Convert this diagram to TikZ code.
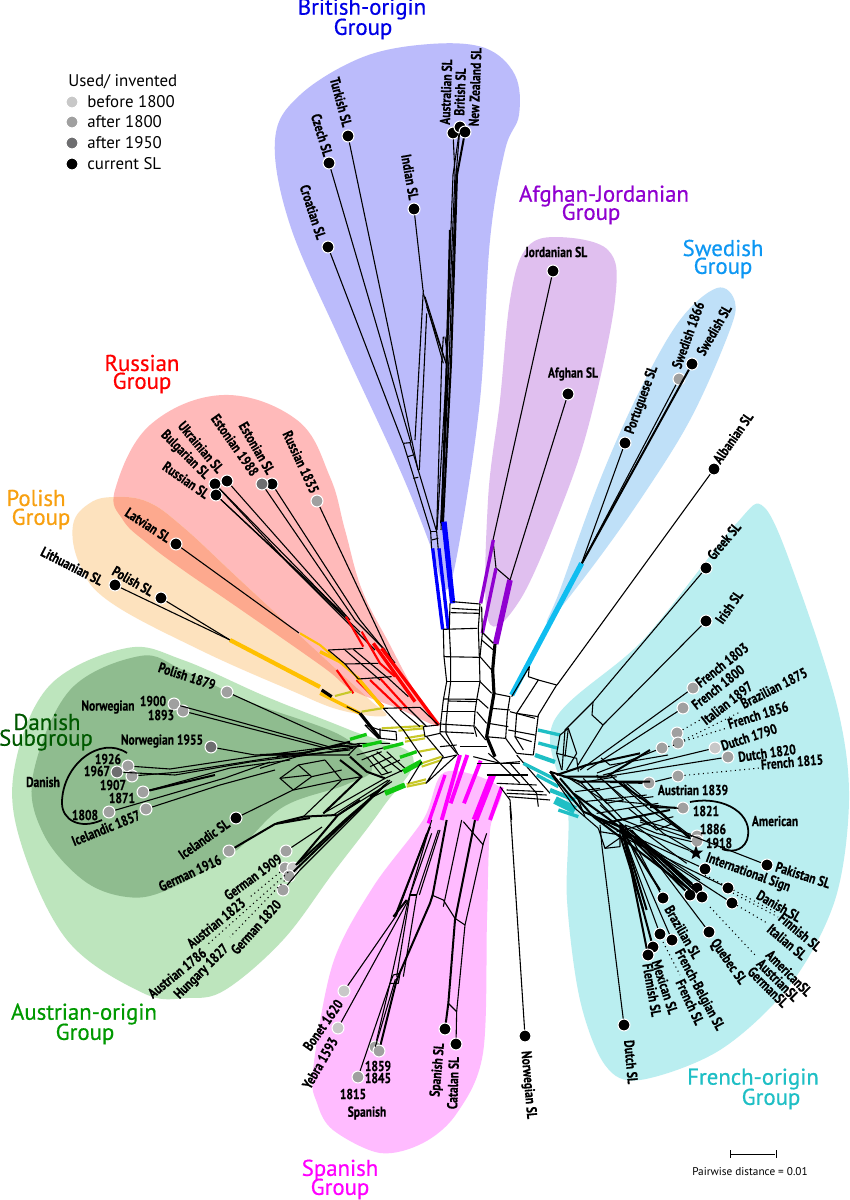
\documentclass[tikz,border=0pt]{standalone}
\usepackage{fontspec}
\usetikzlibrary{shapes.geometric}
\setmainfont[FakeStretch=0.8,BoldFeatures={FakeBold=0.35}]{PT Sans}
\newfontfamily\grpfont[FakeBold=0.5]{PT Sans}
\newfontfamily\legfont{PT Sans}
\definecolor{britfill}{HTML}{BBBBFB}
\definecolor{afghfill}{HTML}{E0BFEF}
\definecolor{swedfill}{HTML}{BFE0F8}
\definecolor{frenfill}{HTML}{BAEEF0}
\definecolor{russfill}{HTML}{FFBABA}
\definecolor{polifill}{HTML}{FDE2BE}
\definecolor{overfill}{HTML}{FDA98E}
\definecolor{ausfill}{HTML}{BDE5BD}
\definecolor{danfill}{HTML}{8FBC8F}
\definecolor{spanfill}{HTML}{FFBBFF}
\definecolor{yearA}{HTML}{C8C8C8}
\definecolor{yearB}{HTML}{A0A0A0}
\definecolor{yearC}{HTML}{6E6E70}
\definecolor{olive}{HTML}{C8C828}
\definecolor{amber}{HTML}{FFC000}
\definecolor{teal2}{HTML}{1FBFC5}
\definecolor{sky2}{HTML}{10BDF0}
\definecolor{purp2}{HTML}{9000D0}
\definecolor{green2}{HTML}{10C810}
\definecolor{mag2}{HTML}{FF00FF}
\definecolor{ora2}{HTML}{F8A010}
\tikzset{
  leaf/.style={circle,draw=white,line width=0.6pt,inner sep=0pt,minimum size=6.8pt,fill=black},
  oldA/.style={leaf,fill=yearA},
  oldB/.style={leaf,fill=yearB},
  oldC/.style={leaf,fill=yearC},
  lbl/.style={font=\fontsize{8.2}{8.2}\selectfont\bfseries,inner sep=0pt},
  grp/.style={font=\grpfont\fontsize{13}{13}\selectfont,inner sep=0pt},
  leg/.style={font=\legfont\fontsize{9.6}{9.6}\selectfont,inner sep=0pt,anchor=west},
  net/.style={line width=0.62pt,line join=round},
  netb/.style={line width=1.15pt,line join=round},
  thirds/.style={x=0.006667cm,y=-0.006667cm},
  strip/.style={line width=1.2pt},
  stripb/.style={line width=1.9pt}
}
\newcommand{\russblob}{plot[smooth cycle,tension=.65] coordinates {(223,395) (297,420) (330,477) (345,530) (362,590) (390,645) (417,695) (440,726) (397,708) (352,690) (323,667) (237,607) (183,570) (147,543) (123,520) (115,490) (150,425)}}
\newcommand{\poliblob}{plot[smooth cycle,tension=.65] coordinates {(115,497) (148,502) (183,527) (240,580) (323,657) (370,700) (385,716) (340,710) (290,690) (200,650) (110,602) (80,565) (73,525) (90,503)}}
\begin{document}
\begin{tikzpicture}[x=0.02cm,y=-0.02cm,>=stealth]
    \useasboundingbox (0,0) rectangle (849,1200);
    \fill[white] (0,0) rectangle (849,1200);

    % Group areas
    \fill[britfill] plot[smooth cycle,tension=.6] coordinates {(275,140) (300,95) (363,57) (430,44) (485,48) (515,75) (519,115) (505,150) (490,240) (480,400) (458,550) (445,590) (432,550) (400,470) (340,340) (290,225)};
    \fill[afghfill] plot[smooth cycle,tension=.6] coordinates {(555,237) (608,250) (615,300) (590,420) (562,505) (520,600) (488,620) (488,500) (500,400) (510,300) (525,250)};
    \fill[swedfill] plot[smooth cycle,tension=.6] coordinates {(717,288) (735,302) (728,335) (690,420) (640,500) (590,570) (548,622) (560,590) (600,480) (640,390) (680,320)};
    \fill[frenfill] plot[smooth cycle,tension=.55] coordinates {(765,508) (800,590) (838,710) (849,800) (835,900) (790,985) (720,1050) (640,1080) (605,1065) (580,1000) (567,900) (568,810) (553,723) (643,640) (735,525)};
    \fill[russfill] \russblob;
    \fill[polifill] \poliblob;
    \begin{scope}
        \clip \poliblob;
        \fill[overfill] \russblob;
    \end{scope}
    \fill[ausfill] plot[smooth cycle,tension=.6] coordinates {(127,648) (183,660) (267,697) (350,730) (413,757) (383,807) (333,873) (283,940) (225,990) (187,998) (143,993) (67,940) (20,840) (15,765) (50,685)};
    \fill[danfill] plot[smooth cycle,tension=.6] coordinates {(140,656) (183,670) (250,702) (340,735) (372,768) (345,785) (283,807) (233,853) (167,890) (127,897) (83,880) (43,833) (33,775) (70,690)};
    \fill[spanfill] plot[smooth cycle,tension=.55] coordinates {(445,772) (500,788) (490,830) (487,920) (483,1053) (457,1113) (423,1143) (380,1153) (333,1130) (317,1103) (313,1070) (333,963) (373,887) (423,820)};

    % Group titles
    \node[grp,text=blue!90!black] (tbrit) at (362,9) {British-origin};
    \node[grp,text=blue!90!black] (tbrit2) at (363,29) {Group};
    \node[grp,text=purp2] (tafgh) at (604,196) {Afghan-Jordanian};
    \node[grp,text=purp2] (tafgh2) at (591,214) {Group};
    \node[grp,text=sky2!80!blue] (tswed) at (723,248) {Swedish};
    \node[grp,text=sky2!80!blue] (tswed2) at (723,268) {Group};
    \node[grp,text=red] (truss) at (142,363) {Russian};
    \node[grp,text=red] (truss2) at (142,383) {Group};
    \node[grp,text=ora2] (tpoli) at (36,498) {Polish};
    \node[grp,text=ora2] (tpoli2) at (41,519) {Group};
    \node[grp,text=green!35!black] (tdani) at (47,722) {Danish};
    \node[grp,text=green!35!black] (tdani2) at (46,740) {Subgroup};
    \node[grp,text=green!60!black] (taust) at (84,1014) {Austrian-origin};
    \node[grp,text=green!60!black] (taust2) at (85,1034) {Group};
    \node[grp,text=mag2] (tspan) at (340,1170) {Spanish};
    \node[grp,text=mag2] (tspan2) at (340,1189) {Group};
    \node[grp,text=teal2] (tfren) at (753,1079) {French-origin};
    \node[grp,text=teal2] (tfren2) at (771,1099) {Group};

    % Legend
    \node[leg] (legtitle) at (68,82) {Used/ invented};
    \node[oldA] (lega) at (72,102) {};
    \node[oldB] (legb) at (72,122) {};
    \node[oldC] (legc) at (72,143) {};
    \node[leaf] (legd) at (72,164) {};
    \node[leg] at (87,102) {before 1800};
    \node[leg] at (87,122) {after 1800};
    \node[leg] at (87,143) {after 1950};
    \node[leg] at (87,164) {current SL};

    % Scale bar
    \node[inner sep=0pt] (barl) at (730,1154) {};
    \node[inner sep=0pt] (barr) at (776,1154) {};
    \draw[line width=0.45pt] (barl) -- (barr);
    \draw[line width=0.45pt] (730,1150) -- (730,1158);
    \draw[line width=0.45pt] (776,1150) -- (776,1158);
    \node[font=\legfont\fontsize{6.4}{6.4}\selectfont,inner sep=0pt] (barlbl) at (750,1172) {Pairwise distance = 0.01};

    % British-origin leaves
    \node[leaf] (turkish) at (348,136) {};
    \node[leaf] (czech) at (329,163) {};
    \node[leaf] (croatian) at (328,247) {};
    \node[leaf] (indian) at (414,209) {};
    \node[leaf] (australian) at (453,133) {};
    \node[leaf] (british) at (460,127) {};
    \node[leaf] (newzealand) at (465,132) {};
    \node[lbl,rotate=-75] at (341,102) {Turkish SL};
    \node[lbl,rotate=-73] at (322,135) {Czech SL};
    \node[lbl,rotate=-72] at (313,212) {Croatian SL};
    \node[lbl,rotate=-80] at (410,177) {Indian SL};
    \node[lbl,rotate=88] at (446,92) {Australian SL};
    \node[lbl,rotate=88] at (460,92) {British SL};
    \node[lbl,rotate=88] at (475,87) {New Zealand SL};

    % Afghan-Jordanian and Swedish leaves
    \node[leaf] (jordanian) at (553,271) {};
    \node[leaf] (afghan) at (568,394) {};
    \node[leaf] (portuguese) at (625,443) {};
    \node[oldB] (swedish66) at (679,379) {};
    \node[leaf] (swedish) at (692,364) {};
    \node[leaf] (albanian) at (714,469) {};
    \node[lbl] at (556,252) {Jordanian SL};
    \node[lbl] at (573,374) {Afghan SL};
    \node[lbl,rotate=70] at (642,400) {Portuguese SL};
    \node[lbl,rotate=70] at (688,335) {Swedish 1866};
    \node[lbl,rotate=60] at (714,330) {Swedish SL};
    \node[lbl,rotate=55] at (733,438) {Albanian SL};

    % French-origin leaves
    \node[leaf] (greek) at (706,568) {};
    \node[leaf] (irish) at (706,621) {};
    \node[oldB] (fr1803) at (693,688) {};
    \node[oldB] (fr1800) at (683,708) {};
    \node[oldB] (it1897) at (677,733) {};
    \node[oldB] (br1875) at (678,743) {};
    \node[oldB] (fr1856) at (662,748) {};
    \node[oldA] (du1790) at (715,748) {};
    \node[oldB] (du1820) at (728,757) {};
    \node[oldB] (fr1815) at (678,776) {};
    \node[oldB] (au1839) at (649,783) {};
    \node[oldB] (am1821) at (683,808) {};
    \node[oldB] (am1886) at (697,836) {};
    \node[oldB] (am1918) at (697,841) {};
    \node[star,star points=5,star point ratio=2.4,fill=black,inner sep=0pt,minimum size=8.5pt] (intsign) at (696,853) {};
    \node[leaf] (pakistan) at (767,865) {};
    \node[leaf] (danishsl) at (705,869) {};
    \node[leaf] (finnish) at (728,888) {};
    \node[leaf] (italian) at (732,903) {};
    \node[leaf] (americansl) at (697,888) {};
    \node[leaf] (austriansl) at (702,897) {};
    \node[leaf] (germansl) at (690,895) {};
    \node[leaf] (quebec) at (709,932) {};
    \node[leaf] (brazilian) at (663,898) {};
    \node[leaf] (frbelgian) at (672,940) {};
    \node[leaf] (frenchsl) at (660,934) {};
    \node[leaf] (mexican) at (653,947) {};
    \node[leaf] (flemish) at (648,955) {};
    \node[leaf] (dutchsl) at (624,1025) {};
    \node[leaf] (norwegiansl) at (525,1036) {};
    \node[lbl,rotate=50] at (724,541) {Greek SL};
    \node[lbl,rotate=55] at (729,607) {Irish SL};
    \node[lbl,rotate=38] at (722,665) {French 1803};
    \node[lbl,rotate=38] at (718,687) {French 1800};
    \node[lbl,rotate=38] at (727,703) {Italian 1897};
    \node[lbl,rotate=27] at (774,688) {Brazilian 1875};
    \node[lbl,rotate=17] at (758,715) {French 1856};
    \node[lbl,rotate=18] at (749,737) {Dutch 1790};
    \node[lbl,rotate=8] at (767,753) {Dutch 1820};
    \node[lbl,rotate=5] at (792,762) {French 1815};
    \node[lbl] at (693,790) {Austrian 1839};
    \node[lbl] at (706,811) {1821};
    \node[lbl] at (713,829) {1886};
    \node[lbl] at (719,843) {1918};
    \node[lbl] at (775,821) {American};
    \node[lbl,rotate=-20] at (748,873) {International Sign};
    \node[lbl,rotate=-18] at (803,875) {Pakistan SL};
    \node[lbl,rotate=-30] at (779,906) {Danish SL};
    \node[lbl,rotate=-40] at (800,932) {Finnish SL};
    \node[lbl,rotate=-40] at (787,942) {Italian SL};
    \node[lbl,rotate=-45] at (789,973) {AmericanSL};
    \node[lbl,rotate=-45] at (778,980) {AustrianSL};
    \node[lbl,rotate=-45] at (768,987) {GermanSL};
    \node[lbl,rotate=-55] at (728,962) {Quebec SL};
    \node[lbl,rotate=-60] at (683,932) {Brazilian SL};
    \node[lbl,rotate=-62] at (699,990) {French-Belgian SL};
    \node[lbl,rotate=-65] at (690,1002) {French SL};
    \node[lbl,rotate=-72] at (665,987) {Mexican SL};
    \node[lbl,rotate=-80] at (652,990) {Flemish SL};
    \node[lbl,rotate=-85] at (631,1062) {Dutch SL};
    \node[lbl,rotate=-85] at (528,1085) {Norwegian SL};
    \draw[line width=1pt] (690,802) .. controls (725,795) and (755,815) .. (747,840) .. controls (742,852) and (730,852) .. (722,849);

    % Spanish leaves
    \node[oldA] (bonet) at (344,991) {};
    \node[oldA] (yebra) at (338,1028) {};
    \node[oldB] (sp1859) at (375,1047) {};
    \node[oldB] (sp1845) at (379,1051) {};
    \node[oldB] (sp1815) at (358,1077) {};
    \node[leaf] (spanishsl) at (445,1029) {};
    \node[leaf] (catalan) at (456,1044) {};
    \node[lbl,rotate=55] at (323,1025) {Bonet 1620};
    \node[lbl,rotate=60] at (320,1063) {Yebra 1593};
    \node[lbl] at (378,1066) {1859};
    \node[lbl] at (378,1078) {1845};
    \node[lbl] at (353,1094) {1815};
    \node[lbl] at (367,1113) {Spanish};
    \node[lbl,rotate=85] at (438,1070) {Spanish SL};
    \node[lbl,rotate=88] at (453,1083) {Catalan SL};

    % Danish and Austrian leaves
    \node[oldB] (po1879) at (227,692) {};
    \node[oldB] (no1900) at (174,704) {};
    \node[oldB] (no1893) at (183,711) {};
    \node[oldC] (no1955) at (211,747) {};
    \node[oldB] (da1926) at (128,766) {};
    \node[oldC] (da1967) at (117,772) {};
    \node[oldB] (da1907) at (132,776) {};
    \node[oldB] (da1871) at (143,792) {};
    \node[oldB] (da1808) at (109,812) {};
    \node[oldB] (ic1857) at (146,809) {};
    \node[leaf] (icelandic) at (236,818) {};
    \node[oldB] (ge1916) at (229,851) {};
    \node[oldB] (ge1909) at (286,851) {};
    \node[oldB] (au1823) at (285,868) {};
    \node[oldA] (au1786) at (293,868) {};
    \node[oldB] (hu1827) at (289,876) {};
    \node[oldB] (ge1820) at (283,890) {};
    \node[lbl,rotate=-18] at (187,676) {Polish 1879};
    \node[lbl] at (108,707) {Norwegian};
    \node[lbl] at (153,701) {1900};
    \node[lbl] at (161,715) {1893};
    \node[lbl] at (162,741) {Norwegian 1955};
    \node[lbl] at (108,759) {1926};
    \node[lbl] at (97,771) {1967};
    \node[lbl] at (113,785) {1907};
    \node[lbl] at (122,798) {1871};
    \node[lbl] at (85,815) {1808};
    \node[lbl,rotate=22] at (106,828) {Icelandic 1857};
    \node[lbl] at (43,782) {Danish};
    \node[lbl,rotate=35] at (204,839) {Icelandic SL};
    \node[lbl,rotate=25] at (190,873) {German 1916};
    \node[lbl,rotate=36] at (253,877) {German 1909};
    \node[lbl,rotate=39] at (216,923) {Austrian 1823};
    \node[lbl,rotate=39] at (177,973) {Austrian 1786};
    \node[lbl,rotate=45] at (202,972) {Hungary 1827};
    \node[lbl,rotate=48] at (256,927) {German 1820};
    \draw[line width=1pt] (127,753) .. controls (100,735) and (62,765) .. (62,803) .. controls (62,820) and (80,830) .. (102,820);
    \draw[net,dotted] (au1823) -- (250,897);
    \draw[net,dotted] (au1786) -- (207,945);
    \draw[net,dotted] (hu1827) -- (230,937);

    % Russian and Polish leaves
    \node[oldB] (ru1835) at (317,501) {};
    \node[leaf] (estoniansl) at (272,484) {};
    \node[oldC] (es1988) at (262,484) {};
    \node[leaf] (ukrainian) at (227,481) {};
    \node[leaf] (bulgarian) at (215,484) {};
    \node[leaf] (russiansl) at (216,495) {};
    \node[leaf] (latvian) at (176,544) {};
    \node[leaf] (polishsl) at (161,598) {};
    \node[leaf] (lithuanian) at (115,585) {};
    \node[lbl,rotate=-65] at (301,462) {Russian 1835};
    \node[lbl,rotate=-60] at (257,448) {Estonian SL};
    \node[lbl,rotate=-55] at (235,445) {Estonian 1988};
    \node[lbl,rotate=-50] at (201,447) {Ukrainian SL};
    \node[lbl,rotate=-45] at (185,455) {Bulgarian SL};
    \node[lbl,rotate=-35] at (186,480) {Russian SL};
    \node[lbl,rotate=-33] at (148,525) {Latvian SL};
    \node[lbl,rotate=-30] at (133,581) {Polish SL};
    \node[lbl,rotate=-27] at (72,566) {Lithuanian SL};

    % Edges to the leaves, British-origin
    \draw[net] (turkish) -- (418,470);
    \draw[net] (czech) -- (411,443);
    \draw[net] (croatian) -- (403,443);
    \draw[net] (indian) -- (423,290);
    \draw[net] (australian) -- (455,175) -- (447,363) -- (437,530);
    \draw[net] (british) -- (456,175) -- (449,363) -- (441,530);
    \draw[netb] (newzealand) -- (457,175) -- (451,363) -- (443,522);
    \draw[net] (british) -- (453,175) -- (446,363);
    \begin{scope}[shift={(310,230)},thirds]
        \draw[net] (340,180) -- (315,630);
        \draw[net] (350,250) -- (328,720);
        \draw[net] (340,190) -- (400,400);
        \draw[net] (345,200) -- (405,390);
        \draw[net] (350,230) -- (408,400);
        \draw[net] (280,640) -- (362,905) -- (365,960);
        \draw[net] (300,638) -- (380,905) -- (385,960);
        \draw[net] (280,640) -- (300,638);
        \draw[net] (293,680) -- (310,675);
        \draw[net] (310,745) -- (325,742);
        \draw[net] (362,905) -- (380,905);
        \draw[net] (365,930) -- (385,925);
        \draw[net] (400,320) -- (395,400) -- (380,900);
        \draw[net] (405,320) -- (415,400) -- (392,880);
        \draw[netb] (420,0) -- (410,400) -- (395,880);
    \end{scope}

    % Edges to the leaves, Afghan-Jordanian and Swedish
    \draw[net] (jordanian) -- (493,540) -- (496,568) -- (510,580);
    \draw[net] (afghan) -- (510,580);
    \draw[net] (portuguese) -- (581,565);
    \draw[net] (swedish66) -- (581,565);
    \draw[netb] (swedish) -- (581,565);
    \draw[net] (albanian) -- (557,685);

    % Edges to the leaves, French-origin
    \draw[net] (greek) -- (593,702) -- (565,730) -- (562,770);
    \draw[net] (irish) -- (603,725) -- (578,765);
    \draw[net] (593,702) -- (592,715) -- (603,725);
    \draw[net] (fr1803) -- (580,770);
    \draw[net] (fr1800) -- (587,770);
    \draw[net,dotted] (it1897) -- (700,720);
    \draw[net,dotted] (br1875) -- (740,712);
    \draw[net,dotted] (br1875) -- (727,728);
    \draw[net,dotted] (fr1856) -- (675,745);
    \draw[net] (fr1856) -- (597,773);
    \draw[net] (du1790) -- (603,775);
    \draw[net] (du1820) -- (597,778);
    \draw[net] (601,758) -- (610,765) -- (668,755);
    \draw[net,dotted] (fr1815) -- (760,768);
    \draw[net] (fr1815) -- (au1839);
    \draw[netb] (au1839) -- (610,782);
    \draw[netb] (am1821) -- (650,807);
    \draw[net] (am1886) -- (640,820);
    \draw[net] (am1918) -- (640,822);
    \draw[net] (intsign) -- (625,825);
    \draw[net] (pakistan) -- (690,835);
    \draw[net] (danishsl) -- (620,830);
    \draw[net,dotted] (705,875) -- (777,913);
    \draw[net] (finnish) -- (625,838);
    \draw[net,dotted] (733,893) -- (778,917);
    \draw[net] (italian) -- (635,840);
    \draw[net,dotted] (733,903) -- (767,923);
    \draw[netb] (americansl) -- (630,830);
    \draw[netb] (austriansl) -- (635,835);
    \draw[netb] (germansl) -- (625,832);
    \draw[net,dotted] (710,907) -- (755,955);
    \draw[net] (quebec) -- (632,830);
    \draw[net] (brazilian) -- (625,825);
    \draw[net] (frbelgian) -- (622,825);
    \draw[net] (frenchsl) -- (620,825);
    \draw[net,dotted] (663,942) -- (680,975);
    \draw[netb] (mexican) -- (620,825);
    \draw[netb] (flemish) -- (622,825);
    \draw[net] (dutchsl) -- (602,847) -- (600,825);
    \draw[net] (norwegiansl) -- (510,806);

    % Edges to the leaves, Spanish
    \begin{scope}[shift={(290,820)},thirds]
        \draw[net] (bonet) -- (320,285) -- (410,40);
        \draw[net] (yebra) -- (355,240) -- (425,0);
        \draw[netb] (310,290) -- (350,240);
        \draw[netb] (315,290) -- (420,20);
        \draw[net] (360,225) -- (380,225);
        \draw[net] (360,225) -- (425,40);
        \draw[net] (380,225) -- (445,30);
        \draw[net] (388,225) -- (450,30);
        \draw[net] (360,225) -- (320,470);
        \draw[net] (380,225) -- (340,470);
        \draw[net] (310,465) -- (330,460) -- (325,490) -- (300,490) -- (310,465);
        \draw[net] (sp1815) -- (300,490) -- (355,240);
        \draw[net] (sp1859) -- (300,490);
        \draw[netb] (sp1845) -- (320,480) -- (420,250) -- (428,225) -- (470,0);
        \draw[net] (256,680) -- (316,478);
        \draw[net] (425,225) -- (460,240) -- (495,295) -- (525,315);
        \draw[net] (460,260) -- (515,0);
        \draw[netb] (495,300) -- (555,0);
        \draw[net] (525,315) -- (580,70) -- (590,40);
        \draw[netb] (495,300) -- (475,550);
        \draw[net] (475,550) -- (500,575);
        \draw[net] (525,315) -- (500,575);
        \draw[net] (500,575) -- (catalan);
        \draw[netb] (475,550) -- (spanishsl);
        \draw[net] (520,5) -- (580,75);
    \end{scope}

    % Edges to the leaves, Danish and Austrian
    \draw[net] (po1879) -- (333,740) -- (362,746);
    \draw[net] (no1900) -- (330,747) -- (362,746);
    \draw[net] (no1893) -- (333,750) -- (362,746);
    \draw[net] (no1955) -- (255,755) -- (350,755);
    \draw[net] (da1926) -- (170,769) -- (250,757) -- (345,745);
    \draw[net] (da1967) -- (175,775) -- (250,762) -- (345,750);
    \draw[net] (da1907) -- (180,772) -- (270,758) -- (350,750);
    \draw[net] (da1871) -- (230,768) -- (290,760);
    \draw[netb] (da1871) -- (215,775);
    \draw[net] (da1808) -- (225,778) -- (270,762);
    \draw[net] (ic1857) -- (220,785) -- (275,770);
    \draw[net] (icelandic) -- (293,790);
    \draw[netb] (ge1916) -- (275,824) -- (310,818);
    \draw[net] (ge1909) -- (322,827);
    \draw[netb] (au1786) -- (345,820) -- (380,790);
    \draw[netb] (hu1827) -- (345,822) -- (385,785);
    \draw[netb] (296,865) -- (338,815) -- (360,800);
    \draw[net] (ge1820) -- (300,870) -- (350,820) -- (390,780);
    \begin{scope}[shift={(260,710)},thirds]
        \draw[net] (115,165) -- (155,200) -- (100,240) -- (60,205) -- (115,165);
        \draw[net] (60,205) -- (150,195);
        \draw[net] (115,165) -- (195,150);
        \draw[net] (155,200) -- (245,180);
        \draw[net] (100,240) -- (240,210);
        \draw[net] (195,150) -- (245,210);
        \draw[netb] (240,150) -- (305,200) -- (190,310);
        \draw[netb] (270,140) -- (320,185) -- (375,205);
        \draw[net] (245,210) -- (305,200);
        \draw[net] (245,210) -- (130,320);
        \draw[netb] (50,340) -- (130,320) -- (230,315);
        \draw[net] (320,140) -- (365,195) -- (395,185);
        \draw[net] (335,135) -- (385,190);
        \draw[net] (350,125) -- (425,185);
        \draw[net] (380,125) -- (435,175);
        \draw[net] (290,135) -- (420,100);
        \draw[net] (305,150) -- (365,125);
        \draw[net] (330,170) -- (395,140);
        \draw[net] (365,175) -- (420,150);
        \draw[net] (190,310) -- (375,205);
        \draw[net] (220,315) -- (385,210);
        \draw[net] (235,315) -- (395,215) -- (330,260);
        \draw[net] (50,140) -- (300,100) -- (390,100);
        \draw[net] (0,175) -- (110,140) -- (280,115);
        \draw[netb] (0,135) -- (130,130) -- (270,95);
        \draw[net] (265,135) -- (300,100);
        \draw[net] (375,205) -- (430,180);
        \draw[net] (340,260) -- (380,240);
    \end{scope}

    % Edges to the leaves, Russian and Polish
    \draw[net] (ru1835) -- (392,660);
    \draw[net] (estoniansl) -- (360,620) -- (395,663);
    \draw[net] (es1988) -- (355,620) -- (385,650);
    \draw[net] (ukrainian) -- (350,620);
    \draw[net] (bulgarian) -- (345,617);
    \draw[net] (russiansl) -- (348,618);
    \draw[net] (bulgarian) -- (290,565) -- (360,632);
    \draw[net] (russiansl) -- (285,560) -- (375,650);
    \draw[net] (latvian) -- (299,633);
    \draw[net] (polishsl) -- (230,640);
    \draw[net] (lithuanian) -- (230,640);
    \draw[line width=2.4pt,amber] (230,640) -- (320,687);

    % Centre of the network
    \begin{scope}[shift={(320,500)},thirds]
        \draw[strip,red] (78,350) -- (130,440);
        \draw[strip,red] (125,395) -- (180,490) -- (225,530);
        \draw[stripb,red] (160,430) -- (285,605);
        \draw[stripb,red] (185,445) -- (300,600) -- (355,675);
        \draw[strip,red] (110,540) -- (190,620);
        \draw[strip,red] (50,510) -- (100,580);
        \draw[strip,red] (150,540) -- (245,630);
        \draw[strip,red] (180,535) -- (262,625);
        \draw[strip,amber] (-60,400) -- (0,435) -- (110,530);
        \draw[stripb,amber] (0,455) -- (70,490);
        \draw[stripb,amber] (0,580) -- (120,640);
        \draw[stripb,amber] (110,530) -- (190,625);
        \draw[strip,olive] (45,588) -- (95,575);
        \draw[strip,olive] (125,635) -- (185,625);
        \draw[strip,olive] (185,685) -- (310,678);
        \draw[strip,olive] (235,692) -- (312,685);
        \draw[strip,olive] (255,715) -- (315,705);
        \draw[strip,olive] (255,725) -- (315,715);
        \draw[strip,olive] (297,755) -- (350,745);
        \draw[strip,olive] (305,790) -- (365,770);
        \draw[strip,olive] (305,800) -- (365,780);
        \draw[strip,olive] (260,853) -- (318,838);
        \draw[strip,olive] (260,860) -- (318,848);
        \draw[stripb,green2] (90,718) -- (140,703);
        \draw[stripb,green2] (128,738) -- (185,725);
        \draw[stripb,green2] (190,745) -- (250,730);
        \draw[stripb,green2] (240,772) -- (290,755);
        \draw[line width=3pt,green2] (250,815) -- (305,785);
        \draw[line width=3pt,green2] (195,880) -- (255,855);
        \draw[stripb,blue] (338,145) -- (368,388);
        \draw[stripb,blue] (357,145) -- (385,388);
        \draw[line width=3pt,blue] (372,65) -- (398,310);
        \draw[stripb,purp2] (520,120) -- (482,310);
        \draw[stripb,purp2] (528,205) -- (487,400);
        \draw[line width=3.2pt,purp2] (570,240) -- (527,432);
        \draw[line width=3pt,sky2] (785,190) -- (575,585);
        \draw[stripb,mag2] (375,825) -- (325,970);
        \draw[line width=2.2pt,mag2] (420,765) -- (365,960);
        \draw[line width=2.2pt,mag2] (442,765) -- (392,910);
        \draw[line width=2.2pt,mag2] (482,782) -- (432,910);
        \draw[line width=3.8pt,mag2] (518,825) -- (465,960);
        \draw[line width=2.2pt,mag2] (545,862) -- (510,960);

        % black ladders
        \draw[net] (370,388) -- (372,470) -- (380,545) -- (370,600) -- (362,670) -- (360,700);
        \draw[net] (390,310) -- (388,388) -- (392,470) -- (392,545) -- (385,600) -- (378,670) -- (378,700);
        \draw[net] (398,305) -- (480,312);
        \draw[net] (395,325) -- (480,330);
        \draw[net] (392,338) -- (478,340);
        \draw[net] (368,388) -- (472,385);
        \draw[net] (372,470) -- (478,472);
        \draw[net] (380,545) -- (480,545);
        \draw[net] (370,597) -- (475,598);
        \draw[net] (385,603) -- (470,605);
        \draw[net] (365,635) -- (465,635);
        \draw[net] (358,672) -- (462,678);
        \draw[net] (360,695) -- (462,700);
        \draw[net] (480,312) -- (475,385) -- (478,470) -- (480,545) -- (470,600) -- (465,635) -- (462,680) -- (470,710);
        \draw[net] (485,320) -- (487,400) -- (480,470);
        \draw[net] (490,400) -- (520,430);
        \draw[net] (485,420) -- (520,450);
        \draw[net] (480,470) -- (515,510);
        \draw[net] (480,545) -- (515,580);
        \draw[net] (475,598) -- (505,625);
        \draw[net] (470,635) -- (500,670);
        \draw[net] (465,680) -- (497,720);
        \draw[line width=1.8pt] (525,432) -- (518,510) -- (522,580) -- (510,650) -- (500,710) -- (525,770);
        \draw[net] (520,580) -- (570,590);
        \draw[net] (515,625) -- (570,630);
        \draw[net] (505,670) -- (565,680);
        \draw[net] (497,710) -- (555,715);
        \draw[net] (570,590) -- (562,640) -- (557,715) -- (590,760);
        \draw[net] (575,590) -- (628,500) -- (625,530) -- (655,540) -- (590,640) -- (585,710) -- (610,750);
        \draw[net] (655,540) -- (710,555);
        \draw[net] (710,555) -- (655,645) -- (640,765);
        \draw[net] (590,640) -- (655,650);
        \draw[net] (570,635) -- (645,655);
        \draw[net] (565,690) -- (645,705);
        \draw[net] (585,710) -- (635,725);
        \draw[net] (590,760) -- (640,765);
        \draw[net] (360,700) -- (410,760);
        \draw[net] (378,700) -- (415,765);
        \draw[net] (420,740) -- (500,740);
        \draw[net] (460,770) -- (540,790) -- (600,785);
        \draw[net] (470,790) -- (600,790);
        \draw[net] (500,825) -- (625,825);
        \draw[net] (530,850) -- (650,855);
        \draw[net] (560,870) -- (670,875);
        \draw[net] (560,880) -- (680,885);
        \draw[net] (565,890) -- (690,900);
        \draw[net] (590,765) -- (690,880);
        \draw[net] (570,790) -- (650,880) -- (655,920);
        \draw[net] (540,790) -- (600,850);
        \draw[net] (505,760) -- (540,790);
        \draw[net] (540,860) -- (570,900) -- (575,960);
        \draw[net] (310,680) -- (355,675);
        \draw[net] (190,625) -- (300,622);
        \draw[net] (300,622) -- (355,675);
        \draw[net] (240,630) -- (300,680);
        \draw[net] (265,625) -- (320,680);
        \draw[net] (190,625) -- (250,690) -- (305,770);
        \draw[net] (310,680) -- (315,710) -- (360,700);
        \draw[net] (320,710) -- (370,770);
        \draw[net] (360,740) -- (410,735);
        \draw[net] (365,775) -- (410,765);
        \draw[net] (370,770) -- (318,850) -- (410,765);
        \draw[net] (305,785) -- (265,850);
        \draw[net] (180,685) -- (180,715) -- (230,720) -- (228,695) -- (180,690);
        \draw[net] (135,675) -- (180,690);
        \draw[net] (135,675) -- (175,715);
        \draw[line width=1.8pt] (120,640) -- (180,715);
        \draw[net] (80,620) -- (120,640);
        \draw[line width=1.8pt] (5,570) -- (35,590);
        \draw[net] (25,450) -- (75,492) -- (115,537);
        \draw[net] (25,450) -- (130,445);
        \draw[net] (75,492) -- (175,490);
        \draw[net] (115,537) -- (215,530);
        \draw[net] (75,450) -- (180,540);
        \draw[net] (100,448) -- (205,535) -- (265,590);
    \end{scope}

    % Mesh on the French side
    \begin{scope}[shift={(540,720)},thirds]
        \draw[stripb,teal2] (-6,30) -- (60,45);
        \draw[stripb,teal2] (-5,69) -- (55,85);
        \draw[line width=2.4pt,teal2] (-15,105) -- (45,126);
        \draw[stripb,teal2] (-50,130) -- (50,180);
        \draw[stripb,teal2] (-10,165) -- (55,200);
        \draw[line width=2.4pt,teal2] (30,210) -- (105,240);
        \draw[line width=4.5pt,teal2] (45,240) -- (105,270);
        \draw[stripb,teal2] (55,270) -- (115,290);
        \draw[net] (60,45) -- (50,100) -- (65,150);
        \draw[net] (60,45) -- (85,25) -- (75,110);
        \draw[net] (85,25) -- (110,100) -- (80,150);
        \draw[net] (50,100) -- (110,115);
        \draw[net] (110,115) -- (115,155);
        \draw[netb] (30,155) -- (120,185) -- (200,185) -- (330,185);
        \draw[netb] (50,165) -- (140,135) -- (300,100);
        \draw[netb] (70,170) -- (200,170) -- (330,90);
        \draw[net] (120,185) -- (250,320) -- (450,510);
        \draw[netb] (30,155) -- (130,275) -- (250,325);
        \draw[netb] (60,175) -- (160,290) -- (450,510);
        \draw[net] (80,170) -- (190,240) -- (300,250) -- (415,265);
        \draw[net] (130,175) -- (250,300) -- (350,340) -- (455,365);
        \draw[net] (170,165) -- (260,240) -- (370,340) -- (470,400);
        \draw[net] (210,165) -- (330,270) -- (450,350);
        \draw[netb] (240,190) -- (340,260) -- (450,355);
        \draw[net] (260,190) -- (390,300) -- (455,350);
        \draw[net] (110,190) -- (230,170);
        \draw[net] (130,245) -- (320,225);
        \draw[net] (150,215) -- (260,195);
        \draw[net] (170,280) -- (355,250);
        \draw[netb] (190,310) -- (390,270);
        \draw[net] (230,335) -- (400,290);
        \draw[netb] (100,220) -- (280,350) -- (460,520);
        \draw[netb] (150,280) -- (330,390) -- (470,505);
        \draw[net] (175,325) -- (195,385) -- (245,350);
        \draw[net] (180,335) -- (240,345);
        \draw[net] (240,310) -- (240,380) -- (195,385);
        \draw[netb] (245,330) -- (360,510);
        \draw[netb] (250,340) -- (320,570);
        \draw[netb] (240,345) -- (310,570);
        \draw[net] (290,320) -- (440,430);
        \draw[net] (230,315) -- (480,480);
        % finer cells
        \draw[net] (150,195) -- (200,250) -- (250,240) -- (200,190);
        \draw[net] (250,190) -- (300,235) -- (340,230);
        \draw[net] (180,255) -- (230,300) -- (300,290);
        \draw[net] (230,300) -- (280,340);
        \draw[net] (300,290) -- (350,330) -- (400,310);
        \draw[net] (105,215) -- (180,205);
        \draw[net] (115,240) -- (135,290);
        \draw[net] (35,165) -- (105,265) -- (175,325);
        \draw[net] (310,240) -- (370,285);
        \draw[net] (265,265) -- (320,310);
    \end{scope}
\end{tikzpicture}
\end{document}
